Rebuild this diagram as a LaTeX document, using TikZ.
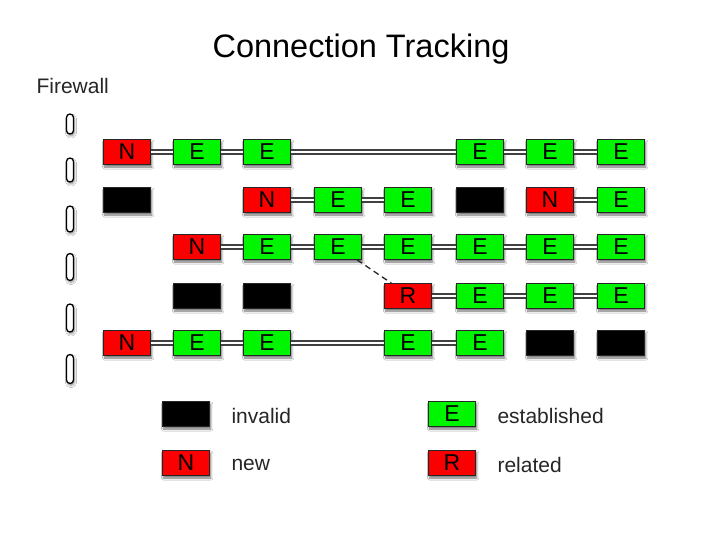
\documentclass[tikz,border=0pt]{standalone}
\usepackage{fontspec}
\setmainfont{Liberation Sans}
\usetikzlibrary{shadows.blur,calc,backgrounds}
\definecolor{boxred}{RGB}{250,0,0}
\definecolor{boxgreen}{RGB}{0,245,0}
\begin{document}
\begin{tikzpicture}[x=1pt,y=-1pt,
  cbox/.style={draw=black!85,line width=0.8pt,minimum width=47pt,minimum height=25pt,inner sep=0pt,
     font=\fontsize{23}{23}\selectfont,text=black,
     blur shadow={shadow xshift=1.2pt,shadow yshift=-2.5pt,shadow blur steps=6,shadow opacity=55}},
  nbox/.style={cbox,fill=boxred},
  ebox/.style={cbox,fill=boxgreen},
  ibox/.style={cbox,fill=black},
  conn/.style={draw=black!75,line width=1.7pt,double=white,double distance=2.2pt},
  pill/.style={draw=black,line width=1.3pt,fill=white,rounded corners=3.5pt,minimum width=7pt,inner sep=0pt,
     blur shadow={shadow xshift=1pt,shadow yshift=-2pt,shadow blur steps=5,shadow opacity=45}},
  lbl/.style={anchor=west,font=\fontsize{21}{21}\selectfont,text=black!85}
]
\useasboundingbox (0,0) rectangle (720,540);
\fill[white] (0,0) rectangle (720,540);
\node[font=\fontsize{32.5}{32.5}\selectfont] (title) at (361,49) {Connection Tracking};
\node[anchor=west,font=\fontsize{21}{21}\selectfont,text=black!85] (fw) at (33,86) {Firewall};
% firewall pills
\node[pill,minimum height=20pt] (p1) at (70,124) {};
\node[pill,minimum height=24pt] (p2) at (70,170) {};
\node[pill,minimum height=26pt] (p3) at (70,219) {};
\node[pill,minimum height=27pt] (p4) at (70,267) {};
\node[pill,minimum height=28pt] (p5) at (70,318) {};
\node[pill,minimum height=29pt] (p6) at (70,369) {};
% row 1
\node[nbox] (a1) at (127,152) {N};
\node[ebox] (a2) at (197,152) {E};
\node[ebox] (a3) at (267,152) {E};
\node[ebox] (a6) at (480,152) {E};
\node[ebox] (a7) at (550,152) {E};
\node[ebox] (a8) at (621,152) {E};
% row 2
\node[ibox] (b1) at (127,200) {};
\node[nbox] (b3) at (267,200) {N};
\node[ebox] (b4) at (338,200) {E};
\node[ebox] (b5) at (408,200) {E};
\node[ibox] (b6) at (480,200) {};
\node[nbox] (b7) at (550,200) {N};
\node[ebox] (b8) at (621,200) {E};
% row 3
\node[nbox] (c2) at (197,247) {N};
\node[ebox] (c3) at (267,247) {E};
\node[ebox] (c4) at (338,247) {E};
\node[ebox] (c5) at (408,247) {E};
\node[ebox] (c6) at (480,247) {E};
\node[ebox] (c7) at (550,247) {E};
\node[ebox] (c8) at (621,247) {E};
% row 4
\node[ibox] (d2) at (197,296) {};
\node[ibox] (d3) at (267,296) {};
\node[nbox] (d5) at (408,296) {R};
\node[ebox] (d6) at (480,296) {E};
\node[ebox] (d7) at (550,296) {E};
\node[ebox] (d8) at (621,296) {E};
% row 5
\node[nbox] (e1) at (127,343) {N};
\node[ebox] (e2) at (197,343) {E};
\node[ebox] (e3) at (267,343) {E};
\node[ebox] (e5) at (408,343) {E};
\node[ebox] (e6) at (480,343) {E};
\node[ibox] (e7) at (550,343) {};
\node[ibox] (e8) at (621,343) {};
% connectors
\foreach \p/\q in {a1/a2,a2/a3,a3/a6,a6/a7,a7/a8,
                   b3/b4,b4/b5,b7/b8,
                   c2/c3,c3/c4,c4/c5,c5/c6,c6/c7,c7/c8,
                   d5/d6,d6/d7,d7/d8,
                   e1/e2,e2/e3,e3/e5,e5/e6}
  \draw[conn] (\p.east) -- (\q.west);
\draw[black!85,line width=1.3pt,dash pattern=on 6pt off 4pt]
  ($(c4.south)!0.8!(c4.south east)$) -- ($(d5.north west)!0.15!(d5.north east)$);
% legend
\node[ibox] (li) at (186,414) {};
\node[lbl] (lit) at (228,416) {invalid};
\node[nbox] (ln) at (186,463) {N};
\node[lbl] (lnt) at (228,465) {new};
\node[ebox] (le) at (452,414) {E};
\node[lbl] (let) at (494,416) {established};
\node[nbox] (lr) at (452,463) {R};
\node[lbl] (lrt) at (494,465) {related};
\end{tikzpicture}
\end{document}
